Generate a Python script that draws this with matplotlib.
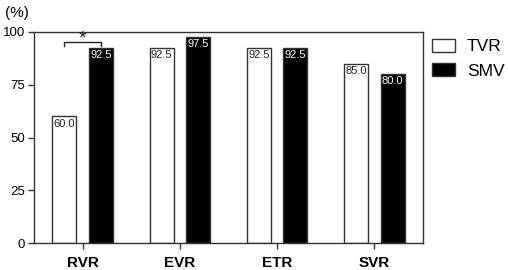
import numpy as np
import matplotlib
matplotlib.use("Agg")
import matplotlib.pyplot as plt

plt.rcParams['font.family'] = ['Liberation Sans', 'DejaVu Sans']

categories = ["RVR", "EVR", "ETR", "SVR"]
tvr = [60.0, 92.5, 92.5, 85.0]
smv = [92.5, 97.5, 92.5, 80.0]
yticks = [0, 25, 50, 75, 100]

fig = plt.figure(figsize=(5.08, 2.70), dpi=100)
ax = fig.add_axes([34 / 508, 27 / 270, 389 / 508, 211 / 270])

x = np.arange(len(categories))
w = 0.245
off = 0.188
ax.bar(x - off, tvr, w, color="white", edgecolor="#333333", linewidth=1.0, label="TVR")
ax.bar(x + off, smv, w, color="black", edgecolor="#333333", linewidth=1.0, label="SMV")

# value labels at top inside bars
for i in range(len(categories)):
    ax.text(x[i] - off, tvr[i] - 1.0, "%.1f" % tvr[i], ha="center", va="top",
            fontsize=8, color="#222222")
    ax.text(x[i] + off, smv[i] - 1.0, "%.1f" % smv[i], ha="center", va="top",
            fontsize=8, color="white")

# significance bracket
yb = 95.3
ax.plot([x[0] - off, x[0] - off, x[0] + off, x[0] + off],
        [yb - 1.8, yb, yb, yb - 1.8], color="#222222", linewidth=1.0, clip_on=False)
ax.text(x[0], yb - 2.5, "*", ha="center", va="bottom", fontsize=14, color="#222222")

ax.set_xlim(-0.5, 3.5)
ax.set_ylim(0, 100)
ax.set_yticks(yticks)
ax.set_yticklabels([str(t) for t in yticks], fontsize=9.5)
ax.set_xticks(x)
ax.set_xticklabels(categories, fontsize=11, fontweight="bold")
for s in ax.spines.values():
    s.set_color("#333333")
    s.set_linewidth(1.0)
ax.tick_params(axis="both", color="#333333", length=4.5, width=1.0, pad=2)
ax.tick_params(axis="x", pad=5)

fig.text(5 / 508, 1 - 13 / 270, "(%)", fontsize=11, va="center", ha="left")

leg = fig.legend(loc="upper left", bbox_to_anchor=(432 / 508, 1 - 39 / 270), frameon=False,
                 fontsize=12.5, handlelength=1.3, handleheight=0.75,
                 handletextpad=0.7, labelspacing=0.5, borderaxespad=0, borderpad=0)

fig.savefig("out.png", dpi=100)
